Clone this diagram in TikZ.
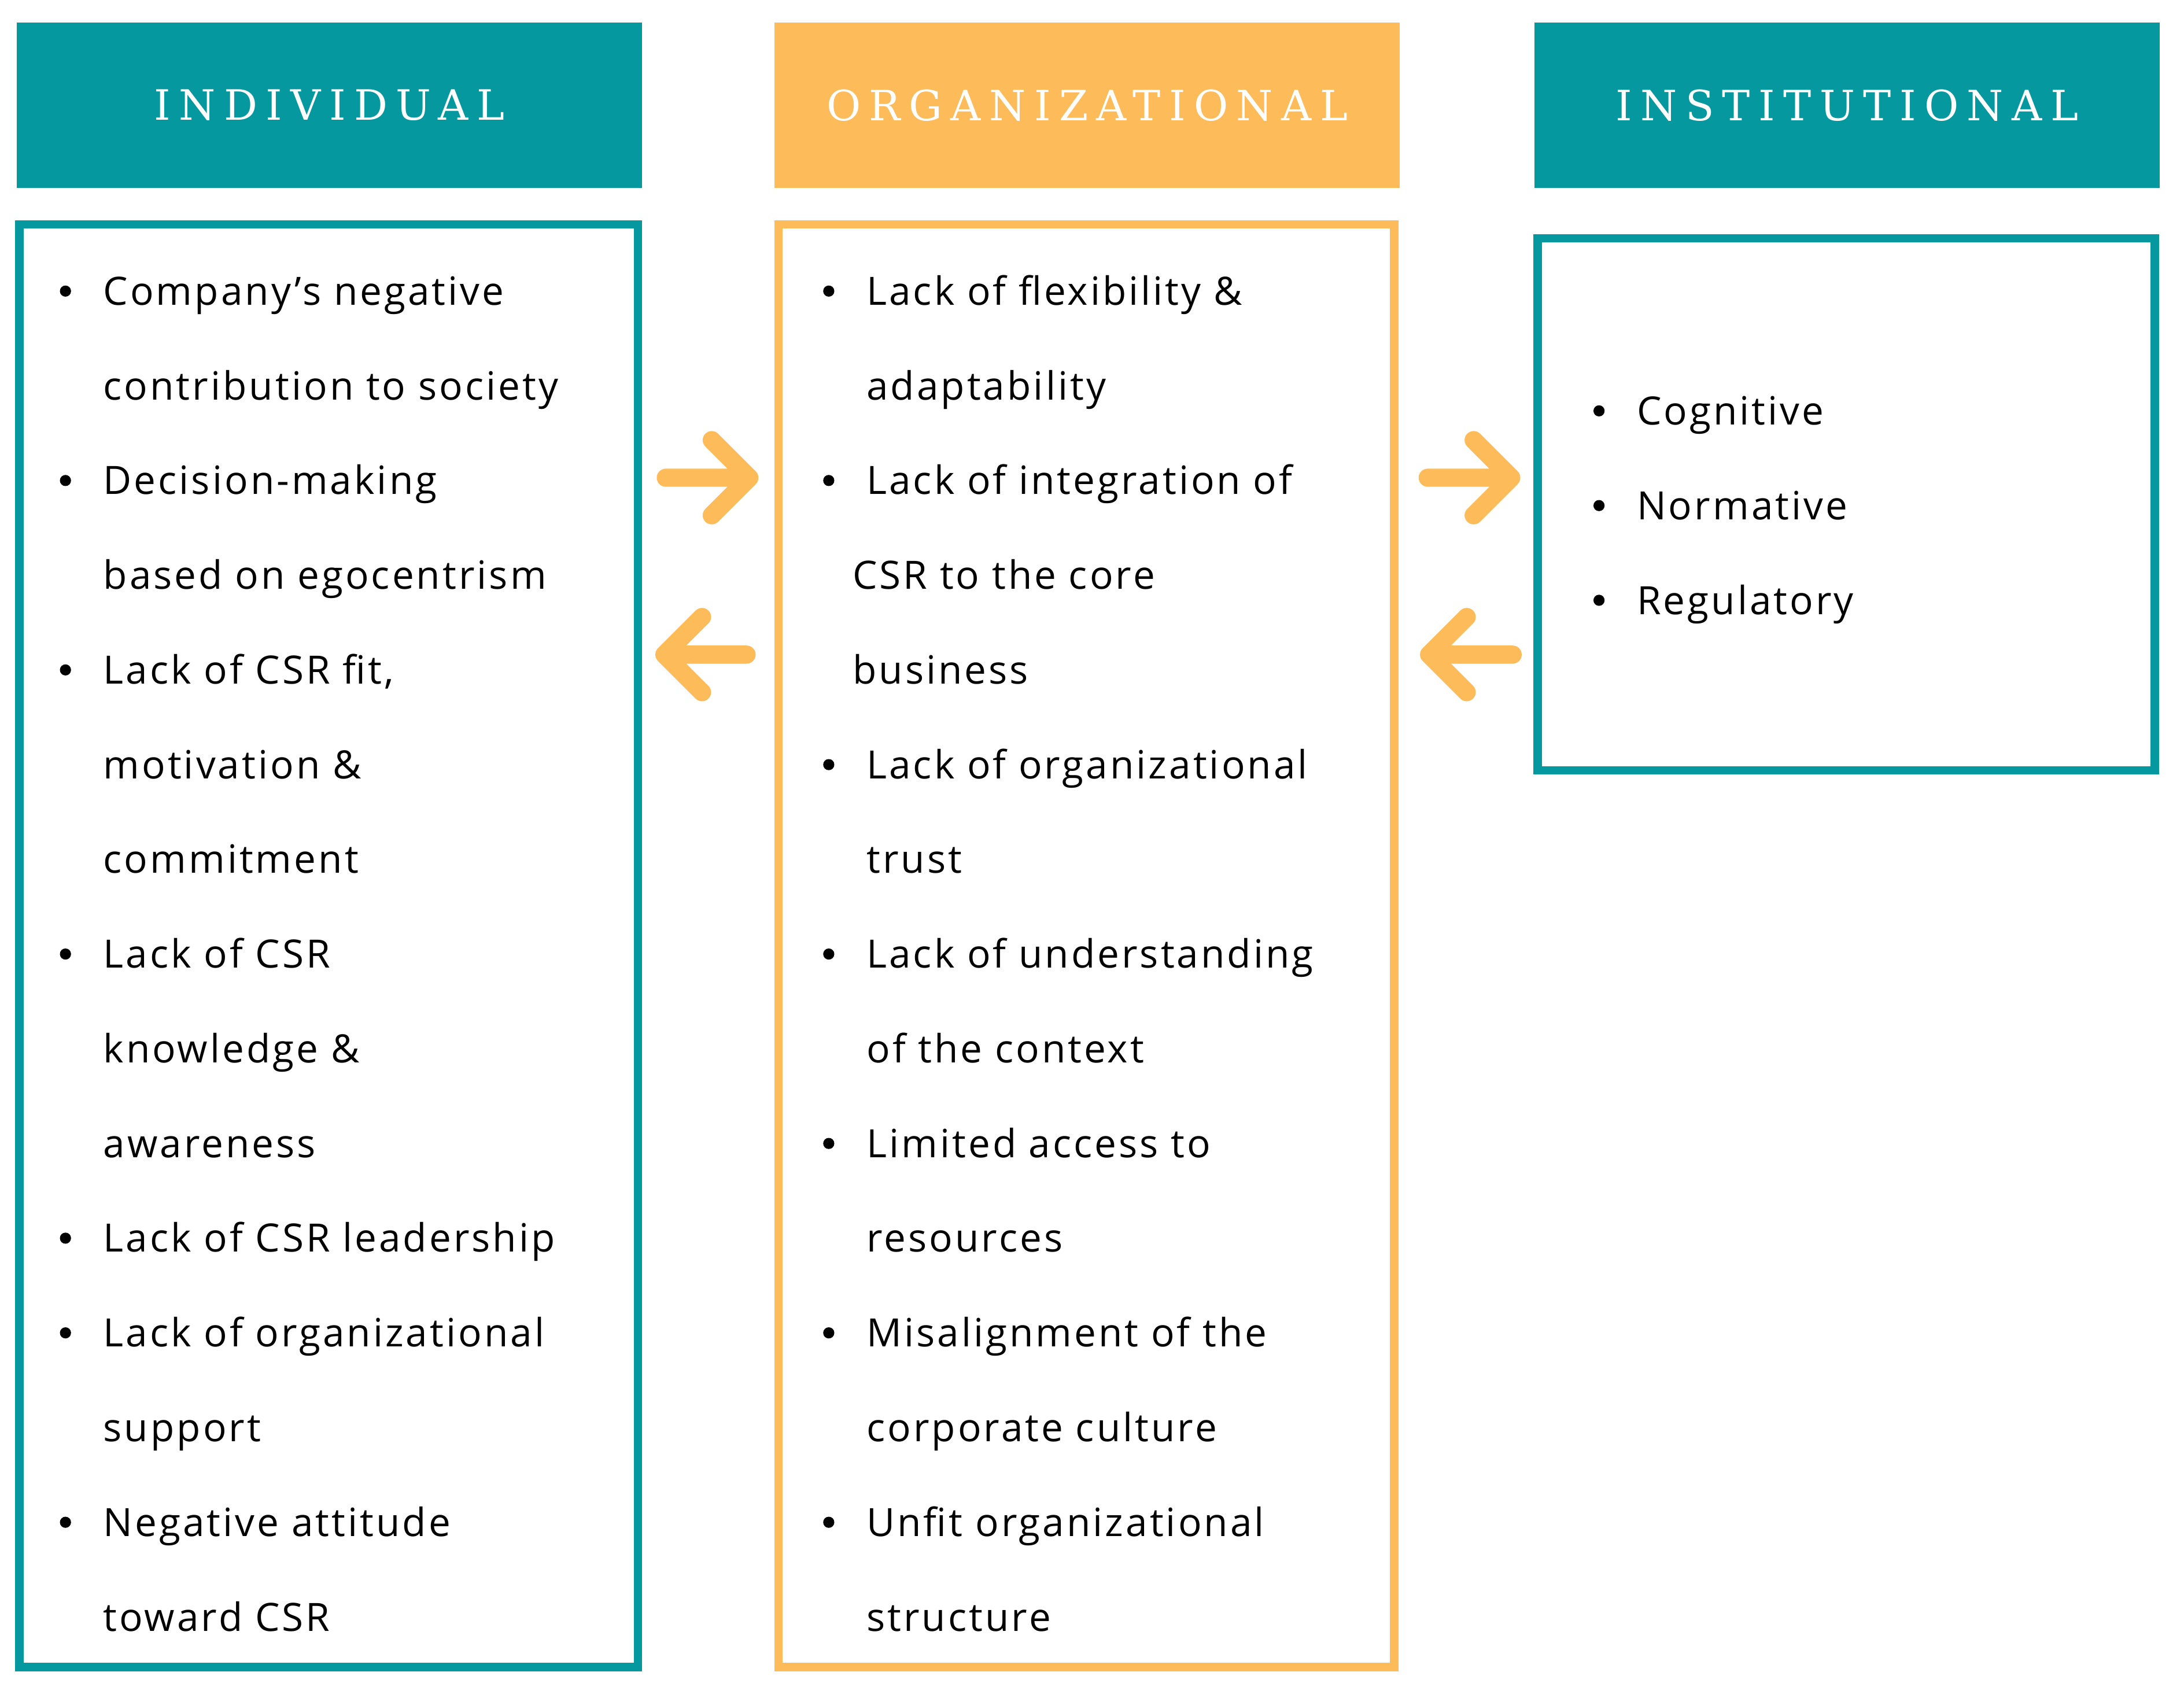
\documentclass[tikz,border=0pt]{standalone}
\usepackage{fontspec}
\setmainfont{Open Sans}[LetterSpace=6]
\newfontfamily\hfont{DejaVu Serif}[LetterSpace=20]
\definecolor{teal}{HTML}{05989E}
\definecolor{orng}{HTML}{FDBB5A}
\begin{document}
\begin{tikzpicture}[x=1pt,y=-1pt,
 hdr/.style={fill=#1,draw=none,minimum width=449pt,minimum height=119pt,inner sep=0pt,text=white,font=\hfont\fontsize{30}{30}\selectfont},
 box/.style={draw=#1,line width=6pt},
 t/.style={anchor=base west,inner sep=0pt,font=\fontsize{28}{28}\selectfont},
 bul/.style={circle,fill=black,inner sep=0pt,minimum size=8pt},
 arr/.style={orng,line width=13pt,line cap=round,line join=round}]
\useasboundingbox (0,0) rectangle (1568,1219);
\fill[white] (0,0) rectangle (1568,1219);
\node[hdr=teal] (h1) at (236.5,75.5) {INDIVIDUAL};
\node[hdr=orng] (h2) at (780.5,75.5) {ORGANIZATIONAL};
\node[hdr=teal] (h3) at (1326,75.5) {INSTITUTIONAL};
\draw[box=teal] (14,161) rectangle (458,1197);
\draw[box=orng] (559,161) rectangle (1001,1197);
\draw[box=teal] (1104,171) rectangle (1547,553);
% Individual
\foreach \y/\b/\s [count=\i] in {209/1/{Company's negative},277/0/{contribution to society},345/1/{Decision-making},413/0/{based on egocentrism},481/1/{Lack of CSR fit,},549/0/{motivation \&},617/0/{commitment},685/1/{Lack of CSR},753/0/{knowledge \&},821/0/{awareness},889/1/{Lack of CSR leadership},957/1/{Lack of organizational},1025/0/{support},1093/1/{Negative attitude},1161/0/{toward CSR}}{
  \node[t] (a\i) at (74,\y+10) {\s};
  \ifnum\b=1 \node[bul] (ab\i) at (47,\y) {};\fi
}
% Organizational
\foreach \y/\b/\x/\s [count=\i] in {209/1/622/{Lack of flexibility \&},277/0/622/{adaptability},345/1/622/{Lack of integration of},413/0/612/{CSR to the core},481/0/612/{business},549/1/622/{Lack of organizational},617/0/622/{trust},685/1/622/{Lack of understanding},753/0/622/{of the context},821/1/622/{Limited access to},889/0/622/{resources},957/1/622/{Misalignment of the},1025/0/622/{corporate culture},1093/1/622/{Unfit organizational},1161/0/622/{structure}}{
  \node[t] (o\i) at (\x,\y+10) {\s};
  \ifnum\b=1 \node[bul] (ob\i) at (595,\y) {};\fi
}
% Institutional
\foreach \y/\s [count=\i] in {295/Cognitive,363/Normative,431/Regulatory}{
  \node[t] (n\i) at (1175,\y+10) {\s};
  \node[bul] (nb\i) at (1148,\y) {};
}
% arrows
\coordinate (r1a) at (478,343); \coordinate (r1b) at (538,343);
\draw[arr] (r1a) -- (r1b) (511,316) -- (r1b) -- (511,370);
\coordinate (l1a) at (536,470); \coordinate (l1b) at (477,470);
\draw[arr] (l1a) -- (l1b) (504,443) -- (l1b) -- (504,497);
\coordinate (r2a) at (1025,343); \coordinate (r2b) at (1085,343);
\draw[arr] (r2a) -- (r2b) (1058,316) -- (r2b) -- (1058,370);
\coordinate (l2a) at (1086,470); \coordinate (l2b) at (1026,470);
\draw[arr] (l2a) -- (l2b) (1053,443) -- (l2b) -- (1053,497);
\end{tikzpicture}
\end{document}
